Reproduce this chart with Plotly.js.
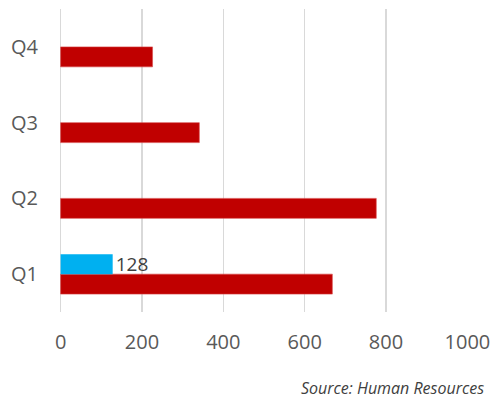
<!DOCTYPE html>
<html>
<head>
<meta charset="utf-8">
<script src="https://cdn.plot.ly/plotly-3.0.1.min.js"></script>
<style>
  html, body { margin: 0; padding: 0; background: #fff; }
  #chart { width: 492px; height: 398px; }
</style>
</head>
<body>
<div id="chart"></div>
<script>
// Quarterly figures
const quarters = ['Q1', 'Q2', 'Q3', 'Q4'];
const mainValues = [668, 776, 341, 226];
const highlightValues = [128, null, null, null];
const highlightLabels = ['128', '', '', ''];
const xTicks = [0, 200, 400, 600, 800, 1000];
const sourceNote = 'Source: Human Resources';

const fontFamily = 'Open Sans, Noto Sans, sans-serif';
const grey = '#595959';

const traces = [
  {
    type: 'bar',
    orientation: 'h',
    y: quarters,
    x: mainValues,
    marker: { color: '#c00000', line: { color: '#d94a4a', width: 0.6 } },
    hoverinfo: 'x'
  },
  {
    type: 'bar',
    orientation: 'h',
    y: quarters,
    x: highlightValues,
    text: highlightLabels,
    textposition: 'outside',
    constraintext: 'none',
    cliponaxis: false,
    textfont: { family: fontFamily, size: 19, color: '#404040' },
    marker: { color: '#00b0f0' },
    hoverinfo: 'x'
  }
];

const layout = {
  width: 492,
  height: 398,
  margin: { l: 60, r: 24, t: 9, b: 86 },
  paper_bgcolor: '#ffffff',
  plot_bgcolor: '#ffffff',
  showlegend: false,
  barmode: 'group',
  bargap: 0.472,
  bargroupgap: 0,
  font: { family: fontFamily, color: grey },
  xaxis: {
    // a hair of padding so the 0 and 1000 gridlines are kept at the edges
    range: [-1.5, 1001.5],
    tickvals: xTicks,
    ticktext: xTicks.map(String),
    showgrid: true,
    gridcolor: '#d9d9d9',
    gridwidth: 1.5,
    zeroline: true,
    zerolinecolor: '#d9d9d9',
    zerolinewidth: 1.5,
    showline: false,
    ticks: '',
    ticklabelstandoff: 16,
    tickfont: { family: fontFamily, size: 20, color: grey },
    fixedrange: true
  },
  yaxis: {
    type: 'category',
    categoryorder: 'array',
    categoryarray: quarters,
    showgrid: false,
    zeroline: false,
    showline: false,
    ticks: '',
    ticklabelstandoff: 21,
    tickfont: { family: fontFamily, size: 20, color: grey },
    fixedrange: true
  },
  annotations: [
    {
      text: '<i>' + sourceNote + '</i>',
      xref: 'paper', yref: 'paper',
      x: 1.044, y: -0.252,
      xanchor: 'right', yanchor: 'middle',
      showarrow: false,
      font: { family: fontFamily, size: 16, color: '#404040' }
    }
  ]
};

Plotly.newPlot('chart', traces, layout, { displayModeBar: false, staticPlot: true });
</script>
</body>
</html>
